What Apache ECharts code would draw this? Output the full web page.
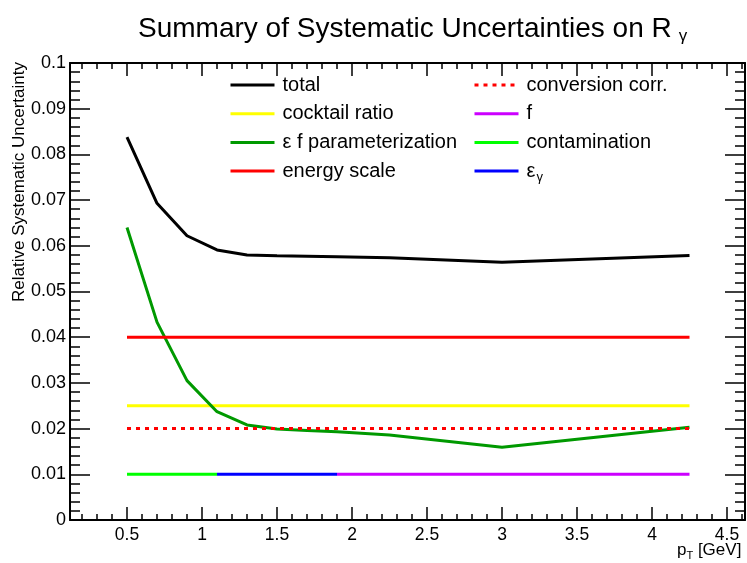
<!DOCTYPE html>
<html><head><meta charset="utf-8">
<script src="https://cdn.jsdelivr.net/npm/echarts@6/dist/echarts.min.js"></script>
<style>html,body{margin:0;padding:0;background:#fff}#c{width:747px;height:563px}</style>
</head><body><div id="c"></div>
<script>
// ---- data ----
const ptPoints = [0.5, 0.7, 0.9, 1.1, 1.3, 1.5, 1.7, 1.9, 2.25, 3, 4.25];
const totalVals = [0.0838, 0.0693, 0.0622, 0.0591, 0.0580, 0.0578, 0.0577, 0.0576, 0.0574, 0.0564, 0.0579];
const efParamVals = [0.0640, 0.0433, 0.0305, 0.0237, 0.0208, 0.0199, 0.0196, 0.0193, 0.0186, 0.0159, 0.0203];
const cocktailX = [0.5, 4.25],  cocktailY = [0.025, 0.025];
const energyX = [0.5, 4.25],    energyY = [0.04, 0.04];
const conversionX = [0.5, 4.25], conversionY = [0.02, 0.02];
const fX = [1.9, 4.25],          fY = [0.01, 0.01];
const contamX = [0.5, 1.1],      contamY = [0.01, 0.01];
const effGammaX = [1.1, 1.9],    effGammaY = [0.01, 0.01];
const legendCol1 = ['total', 'cocktail ratio', 'ε f parameterization', 'energy scale'];
const legendCol2 = ['conversion corr.', 'f', 'contamination', 'ε_γ'];

function pairs(xs, ys) { return xs.map((x, i) => [x, ys[i]]); }

const FONT = "'Liberation Sans', Arial, sans-serif";
const chart = echarts.init(document.getElementById('c'), null, {renderer: 'canvas'});

function mkSeries(name, xs, ys, color, type) {
  return {
    name: name, type: 'line', data: pairs(xs, ys), symbol: 'none', showSymbol: false,
    xAxisIndex: 0, yAxisIndex: 0, silent: true,
    lineStyle: {color: color, width: 3, type: type || 'solid', cap: 'butt'},
    itemStyle: {color: color}
  };
}

const xCommon = {
  type: 'value', min: 0.12, max: 4.62, splitNumber: 9,
  axisLine: {show: true, onZero: false, lineStyle: {color: '#000', width: 2}},
  axisTick: {show: true, inside: true, length: 13, lineStyle: {color: '#000', width: 1.5}},
  minorTick: {show: true, splitNumber: 5, length: 6, lineStyle: {color: '#000', width: 1.5}},
  splitLine: {show: false}, minorSplitLine: {show: false}
};
const yCommon = {
  type: 'value', min: 0, max: 0.1, interval: 0.01,
  axisLine: {show: true, onZero: false, lineStyle: {color: '#000', width: 2}},
  axisTick: {show: true, inside: true, length: 20, lineStyle: {color: '#000', width: 1.5}},
  minorTick: {show: true, splitNumber: 5, length: 10, lineStyle: {color: '#000', width: 1.5}},
  splitLine: {show: false}, minorSplitLine: {show: false}
};

const legendBase = {
  orient: 'vertical', itemWidth: 44, itemHeight: 20, itemGap: 8.7, padding: 0,
  selectedMode: false,
  lineStyle: {width: 3},
  itemStyle: {opacity: 0, borderWidth: 0},
  textStyle: {fontFamily: FONT, fontSize: 20, color: '#000', lineHeight: 20, padding: [0, 0, 0, 3],
    rich: {e: {fontFamily: FONT, fontSize: 20, color: '#000'}, s: {fontFamily: FONT, fontSize: 13, color: '#000', padding: [12, 0, 0, 1]}}},
  formatter: function (n) { return n === 'ε_γ' ? '{e|ε}{s|γ}' : n; }
};

chart.setOption({
  animation: false,
  backgroundColor: '#fff',
  title: {
    text: '{a|Summary of Systematic Uncertainties on R}{s|γ}',
    left: 133, top: 10,
    textStyle: {fontFamily: FONT, fontWeight: 'normal', color: '#000',
      rich: {a: {fontFamily: FONT, fontSize: 28, color: '#000', verticalAlign: 'top', lineHeight: 30},
             s: {fontFamily: FONT, fontSize: 17, color: '#000', verticalAlign: 'bottom', lineHeight: 20, padding: [33, 0, 0, 7]}}}
  },
  grid: {left: 70, right: 2, top: 63, bottom: 43, containLabel: false, outerBoundsMode: 'none'},
  legend: [
    Object.assign({}, legendBase, {left: 229, top: 75, data: legendCol1}),
    Object.assign({}, legendBase, {left: 473, top: 75, data: legendCol2})
  ],
  xAxis: [
    Object.assign({}, xCommon, {
      position: 'bottom',
      axisLabel: {show: true, fontFamily: FONT, fontSize: 17.5, color: '#000', margin: 6,
        formatter: function (v) { return Math.abs(v * 2 - Math.round(v * 2)) < 1e-6 ? String(v) : ''; }},
      name: 'p{s|T} [GeV]', nameLocation: 'end', nameGap: -68, nameMoveOverlap: false,
      nameTextStyle: {fontFamily: FONT, fontSize: 17, color: '#000', verticalAlign: 'top', padding: [20, 0, 0, 0],
        rich: {s: {fontFamily: FONT, fontSize: 11, color: '#000', padding: [10, 0, 0, 0]}}}
    }),
    Object.assign({}, xCommon, {position: 'top', axisLabel: {show: false}})
  ],
  yAxis: [
    Object.assign({}, yCommon, {
      position: 'left',
      axisLabel: {show: true, fontFamily: FONT, fontSize: 18, color: '#000', margin: 4},
      name: 'Relative Systematic Uncertainty', nameLocation: 'start', nameRotate: 90, nameGap: 0, nameMoveOverlap: false,
      nameTextStyle: {fontFamily: FONT, fontSize: 17, color: '#000', align: 'left', verticalAlign: 'bottom', lineHeight: 17, padding: [0, 0, 42, 218]}
    }),
    Object.assign({}, yCommon, {position: 'right', axisLabel: {show: false}})
  ],
  series: [
    mkSeries('total', ptPoints, totalVals, '#000000'),
    mkSeries('cocktail ratio', cocktailX, cocktailY, '#ffff00'),
    mkSeries('ε f parameterization', ptPoints, efParamVals, '#009900'),
    mkSeries('energy scale', energyX, energyY, '#ff0000'),
    mkSeries('conversion corr.', conversionX, conversionY, '#ff0000', [4, 5]),
    mkSeries('f', fX, fY, '#cc00ff'),
    mkSeries('contamination', contamX, contamY, '#00ff00'),
    mkSeries('ε_γ', effGammaX, effGammaY, '#0000ff')
  ]
});
</script></body></html>
